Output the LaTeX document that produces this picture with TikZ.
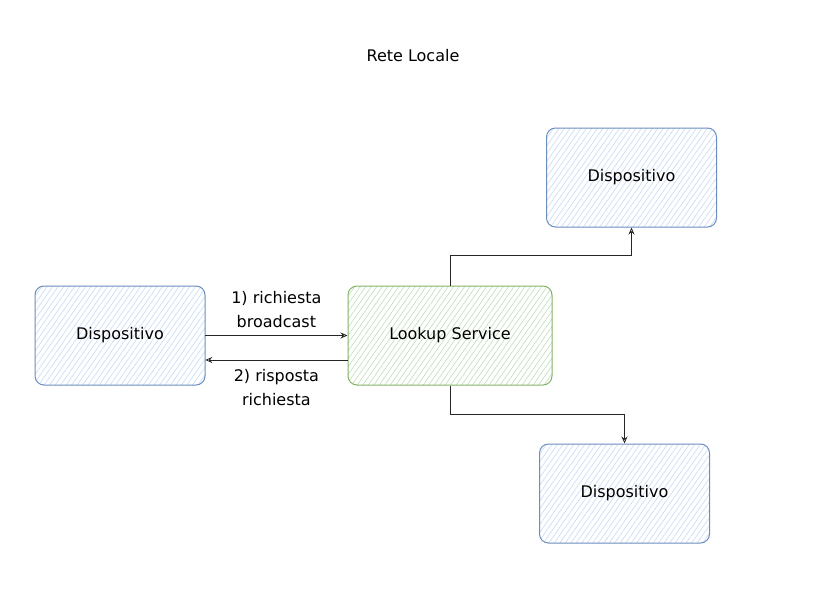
\documentclass[tikz,border=0pt]{standalone}
\usepackage{fontspec}
\setmainfont{DejaVu Sans}
\usepackage{tikz}
\usetikzlibrary{positioning,arrows.meta,patterns.meta}

\definecolor{devdraw}{HTML}{6C8EBF}
\definecolor{devfill}{HTML}{C5D9F5}
\definecolor{lsdraw}{HTML}{82B366}
\definecolor{lsfill}{HTML}{BFDDB8}

\begin{document}
\begin{tikzpicture}[
  x=1pt, y=-1pt,
  font=\fontsize{16}{24}\selectfont,
  >={Stealth[open,length=7pt,width=6pt]},
  box/.style    ={rectangle, rounded corners=9pt, align=center, line width=1pt,
                  minimum height=99pt},
  device/.style ={box, draw=devdraw, minimum width=170pt,
                  pattern={Lines[angle=55,distance=4.5pt,line width=0.6pt]},
                  pattern color=devfill},
  lookup/.style ={box, draw=lsdraw, minimum width=204pt,
                  pattern={Lines[angle=55,distance=4.5pt,line width=0.6pt]},
                  pattern color=lsfill},
  arr/.style    ={->, line width=0.8pt, draw=black!85},
  lbl/.style    ={align=center, inner sep=2pt},
]

\useasboundingbox (0,0) rectangle (827,605);

% ---------- title ----------
\node (title) at (413,56) {Rete Locale};

% ---------- nodes ----------
\node[device] (devL)  at (120,335.5)   {Dispositivo};
\node[lookup] (lookup) at (450,335.5)  {Lookup Service};
\node[device] (devT)  at (631.5,177.5) {Dispositivo};
\node[device] (devB)  at (624.5,493.5) {Dispositivo};

% ---------- arrows ----------
\draw[arr] (devL) -- (lookup)
  node[lbl, midway, above=5pt] {1) richiesta\\broadcast};
\draw[arr] ([yshift=-24.5pt]lookup.west) -- ([yshift=-24.5pt]devL.east)
  node[lbl, midway, below=7pt] {2) risposta\\richiesta};
\draw[arr] (lookup.north) -- ++(0,-30) -| (devT.south);
\draw[arr] (lookup.south) -- ++(0,29) -| (devB.north);

\end{tikzpicture}
\end{document}
